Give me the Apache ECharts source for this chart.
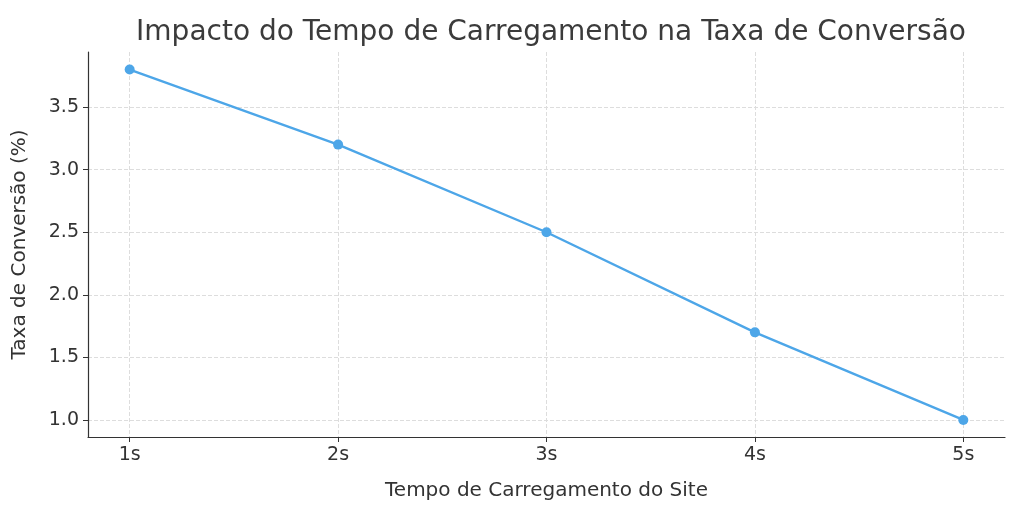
<!DOCTYPE html>
<html><head><meta charset="utf-8">
<script src="https://cdn.jsdelivr.net/npm/echarts@6/dist/echarts.min.js"></script>
<style>html,body{margin:0;padding:0;background:#fff}#c{width:1024px;height:512px}</style>
</head><body><div id="c"></div>
<script>
const times = [1, 2, 3, 4, 5];
const timeLabels = ['1s', '2s', '3s', '4s', '5s'];
const rates = [3.8, 3.2, 2.5, 1.7, 1.0];
const yTicks = [1.0, 1.5, 2.0, 2.5, 3.0, 3.5];

const chart = echarts.init(document.getElementById('c'));
const font = 'DejaVu Sans';
chart.setOption({
  animation: false,
  title: {text: 'Impacto do Tempo de Carregamento na Taxa de Conversão', left: 546, top: 14, textAlign: 'center',
    textStyle: {fontFamily: font, fontSize: 28, fontWeight: 'normal', color: '#3b3b3b'}},
  grid: {left: 88, right: 19, top: 52, bottom: 75},
  xAxis: {type: 'value', min: 0.8, max: 5.2,
    name: 'Tempo de Carregamento do Site', nameLocation: 'middle', nameGap: 44,
    nameTextStyle: {fontFamily: font, fontSize: 20, color: '#333'},
    axisLine: {show: true, lineStyle: {color: '#333', width: 1.2}},
    axisTick: {show: true, customValues: times, length: 5, lineStyle: {color: '#333'}},
    axisLabel: {customValues: times, formatter: v => timeLabels[times.indexOf(v)] || '', fontFamily: font, fontSize: 19, color: '#333', margin: 9},
    splitLine: {show: true, lineStyle: {type: 'dashed', color: '#dddddd'}}},
  yAxis: {type: 'value', min: 0.864, max: 3.94,
    name: 'Taxa de Conversão (%)', nameLocation: 'middle', nameGap: 58,
    nameTextStyle: {fontFamily: font, fontSize: 20, color: '#333'},
    axisLine: {show: true, lineStyle: {color: '#333', width: 1.2}},
    axisTick: {show: true, customValues: yTicks, length: 5, lineStyle: {color: '#333'}},
    axisLabel: {customValues: yTicks, formatter: v => v.toFixed(1), fontFamily: font, fontSize: 19, color: '#333', margin: 9},
    splitLine: {show: true, lineStyle: {type: 'dashed', color: '#dddddd'}}},
  series: [{type: 'line', data: times.map((t, i) => [t, rates[i]]),
    symbol: 'circle', symbolSize: 10, lineStyle: {color: '#4da6e8', width: 2.4},
    itemStyle: {color: '#4da6e8'}}]
});
</script></body></html>
